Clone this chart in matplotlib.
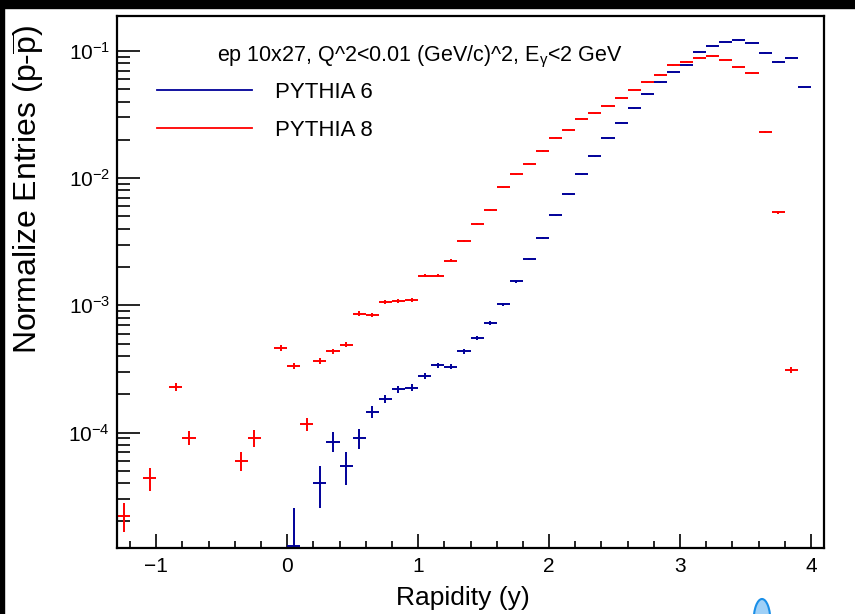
import numpy as np
import matplotlib
matplotlib.use('Agg')
import matplotlib.pyplot as plt
from matplotlib.lines import Line2D
from matplotlib.patches import Rectangle, Ellipse
from matplotlib.ticker import LogLocator, NullFormatter, MultipleLocator

plt.rcParams['font.family'] = ['Liberation Sans', 'DejaVu Sans']
plt.rcParams['mathtext.fontset'] = 'custom'
plt.rcParams['mathtext.rm'] = 'Liberation Sans'
plt.rcParams['mathtext.it'] = 'Liberation Sans:italic'
plt.rcParams['mathtext.bf'] = 'Liberation Sans:bold'

# PYTHIA 8 (red)
y8_x = [-1.25, -1.05, -0.85, -0.75, -0.35, -0.25, -0.05, 0.05, 0.15, 0.25,
        0.35, 0.45, 0.55, 0.65, 0.75, 0.85, 0.95, 1.05, 1.15, 1.25,
        1.35, 1.45, 1.55, 1.65, 1.75, 1.85, 1.95, 2.05, 2.15, 2.25,
        2.35, 2.45, 2.55, 2.65, 2.75, 2.85, 2.95, 3.05, 3.15, 3.25,
        3.35, 3.45, 3.55, 3.65, 3.75, 3.85]
y8_val = [2.22e-5, 4.4e-5, 2.29e-4, 9.1e-5, 6.0e-5, 9.1e-5, 4.65e-4, 3.33e-4, 1.16e-4, 3.67e-4,
          4.35e-4, 4.91e-4, 8.6e-4, 8.4e-4, 1.06e-3, 1.09e-3, 1.11e-3, 1.71e-3, 1.71e-3, 2.25e-3,
          3.19e-3, 4.37e-3, 5.63e-3, 8.45e-3, 1.07e-2, 1.30e-2, 1.63e-2, 2.07e-2, 2.38e-2, 2.92e-2,
          3.24e-2, 3.69e-2, 4.27e-2, 4.93e-2, 5.67e-2, 6.51e-2, 7.71e-2, 8.24e-2, 8.87e-2, 9.08e-2,
          8.49e-2, 7.48e-2, 6.67e-2, 2.30e-2, 5.37e-3, 3.12e-4]
y8_relerr = [0.26, 0.205, 0.07, 0.12, 0.17, 0.15, 0.055, 0.06, 0.115, 0.055,
             0.05, 0.05, 0.04, 0.04, 0.035, 0.035, 0.035, 0.03, 0.03, 0.025,
             0.02, 0.02, 0.018, 0.015, 0.013, 0.012, 0.011, 0.01, 0.01, 0.009,
             0.009, 0.008, 0.008, 0.007, 0.007, 0.007, 0.006, 0.006, 0.006, 0.006,
             0.006, 0.006, 0.007, 0.012, 0.025, 0.055]

# PYTHIA 6 (blue)
y6_x = [0.05, 0.25, 0.35, 0.45, 0.55, 0.65, 0.75, 0.85, 0.95, 1.05,
        1.15, 1.25, 1.35, 1.45, 1.55, 1.65, 1.75, 1.85, 1.95, 2.05,
        2.15, 2.25, 2.35, 2.45, 2.55, 2.65, 2.75, 2.85, 2.95, 3.05,
        3.15, 3.25, 3.35, 3.45, 3.55, 3.65, 3.75, 3.85, 3.95]
y6_val = [1.28e-5, 4.02e-5, 8.5e-5, 5.47e-5, 9.1e-5, 1.46e-4, 1.83e-4, 2.19e-4, 2.25e-4, 2.79e-4,
          3.38e-4, 3.28e-4, 4.35e-4, 5.5e-4, 7.26e-4, 1.02e-3, 1.54e-3, 2.30e-3, 3.38e-3, 5.11e-3,
          7.48e-3, 1.07e-2, 1.48e-2, 2.06e-2, 2.73e-2, 3.53e-2, 4.56e-2, 5.67e-2, 6.84e-2, 7.71e-2,
          9.77e-2, 0.109, 0.118, 0.121, 0.115, 9.7e-2, 8.24e-2, 8.87e-2, 5.21e-2]
y6_relerr = [1.0, 0.36, 0.18, 0.29, 0.18, 0.115, 0.075, 0.065, 0.065, 0.055,
             0.045, 0.045, 0.04, 0.035, 0.03, 0.025, 0.02, 0.018, 0.015, 0.012,
             0.01, 0.009, 0.008, 0.007, 0.006, 0.006, 0.005, 0.005, 0.005, 0.005,
             0.004, 0.004, 0.004, 0.004, 0.004, 0.004, 0.005, 0.005, 0.006]

bin_half = 0.05
c6 = '#000099'
c8 = '#ff0000'

fig = plt.figure(figsize=(8.55, 6.14), dpi=100)
ax = fig.add_axes([117/855, 1 - 548.3/614, 707/855, 532.3/614])


def draw(xs, vals, rel, col):
    v = np.array(vals)
    e = v * np.array(rel)
    lo = np.minimum(e, v * 0.9999)
    ax.errorbar(xs, v, xerr=bin_half, yerr=[lo, e], fmt='none',
                ecolor=col, elinewidth=1.4, capsize=0)


draw(y6_x, y6_val, y6_relerr, c6)
draw(y8_x, y8_val, y8_relerr, c8)

ax.set_yscale('log')
ax.set_xlim(-1.3, 4.1)
ax.set_ylim(1.23e-5, 0.188)

ax.yaxis.set_major_locator(LogLocator(base=10, numticks=10))
ax.yaxis.set_minor_locator(LogLocator(base=10, subs=np.arange(2, 10), numticks=20))
ax.yaxis.set_minor_formatter(NullFormatter())
ax.xaxis.set_major_locator(MultipleLocator(1))
ax.xaxis.set_minor_locator(MultipleLocator(0.2))

ax.tick_params(axis='both', which='both', direction='in', top=False, right=False,
               labelsize=15, width=1.2)
ax.tick_params(axis='y', which='major', length=16.5, pad=5)
ax.tick_params(axis='y', which='minor', length=9.5)
ax.tick_params(axis='x', which='major', length=10, pad=6.5)
ax.tick_params(axis='x', which='minor', length=5)
for sp in ax.spines.values():
    sp.set_linewidth(1.6)

ax.set_xlabel('Rapidity (y)', fontsize=19)
ax.xaxis.set_label_coords(0.489, -0.07)
ax.set_ylabel(r'Normalize Entries (p-$\mathregular{\overline{p}}$)', fontsize=23)
ax.yaxis.set_label_coords(-0.099, 0.675)

ax.text(0.1414, 0.9144, r'ep 10x27, Q^2<0.01 (GeV/c)^2, E$_{\mathregular{\gamma}}$<2 GeV',
        transform=ax.transAxes, fontsize=15.5, ha='left', va='baseline')

handles = [Line2D([], [], color=c6, lw=1.3), Line2D([], [], color=c8, lw=1.3)]
ax.legend(handles, ['PYTHIA 6', 'PYTHIA 8'], loc='upper left',
          bbox_to_anchor=(0.0562, 0.876), frameon=False, fontsize=16,
          handlelength=4.3, handletextpad=1.0, labelspacing=0.75,
          borderpad=0, borderaxespad=0)

# screenshot borders
fig.patches.append(Rectangle((0, 1 - 8/614), 1, 8/614, transform=fig.transFigure,
                             color='black', zorder=10))
fig.patches.append(Rectangle((0, 0), 4/855, 1, transform=fig.transFigure,
                             color='black', zorder=10))
fig.patches.append(Ellipse((762/855, 1 - 622/614), 17/855, 46/614, transform=fig.transFigure,
                           facecolor='#9fd0f7', edgecolor='#1a8fe8', lw=1.5, zorder=10))

fig.savefig('out.png', dpi=100)
